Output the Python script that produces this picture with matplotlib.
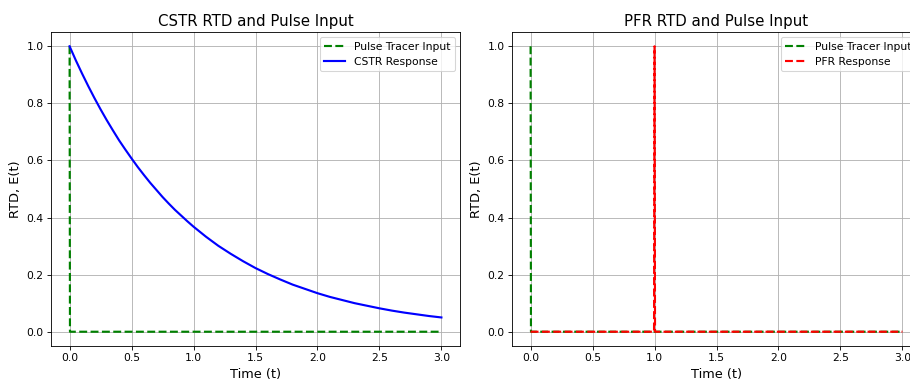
import numpy as np
import matplotlib
matplotlib.use("Agg")
import matplotlib.pyplot as plt

# pulse tracer input (spike at t=0)
pulse_t = [0.0, 0.003, 3.0]
pulse_e = [1.0, 0.0, 0.0]

# CSTR response, E(t)
cstr_t = [0.0, 0.05, 0.1, 0.15, 0.2, 0.25, 0.3, 0.35, 0.4, 0.45, 0.5,
          0.55, 0.6, 0.65, 0.7, 0.75, 0.8, 0.85, 0.9, 0.95, 1.0,
          1.1, 1.2, 1.3, 1.4, 1.5, 1.6, 1.7, 1.8, 1.9, 2.0,
          2.1, 2.2, 2.3, 2.4, 2.5, 2.6, 2.7, 2.8, 2.9, 3.0]
cstr_e = [1.0, 0.951, 0.905, 0.861, 0.819, 0.779, 0.741, 0.705, 0.670, 0.638, 0.607,
          0.577, 0.549, 0.522, 0.497, 0.472, 0.449, 0.427, 0.407, 0.387, 0.368,
          0.333, 0.301, 0.273, 0.247, 0.223, 0.202, 0.183, 0.165, 0.150, 0.135,
          0.122, 0.111, 0.100, 0.091, 0.082, 0.074, 0.067, 0.061, 0.055, 0.050]

# PFR response (spike at t=tau=1)
pfr_t = [0.0, 0.996, 1.0, 1.004, 3.0]
pfr_e = [0.0, 0.0, 1.0, 0.0, 0.0]

dpi = 77
W, H = 910, 381
fig = plt.figure(figsize=(W / dpi, H / dpi), dpi=dpi)
# axes boxes in pixels: left, bottom, width, height
ax1 = fig.add_axes([51 / W, 35 / H, 409 / W, 314 / H])
ax2 = fig.add_axes([512 / W, 35 / H, 409 / W, 314 / H])

ax1.plot(pulse_t, pulse_e, 'g--', lw=2, label='Pulse Tracer Input')
ax1.plot(cstr_t, cstr_e, 'b-', lw=2, label='CSTR Response')
ax1.set_title('CSTR RTD and Pulse Input', fontsize=14)
ax1.set_xlabel('Time (t)', fontsize=12)
ax1.set_ylabel('RTD, E(t)', fontsize=12)
ax1.legend()
ax1.grid(True)

ax2.plot(pulse_t, pulse_e, 'g--', lw=2, label='Pulse Tracer Input')
ax2.plot(pfr_t, pfr_e, 'r--', lw=2, label='PFR Response')
ax2.set_title('PFR RTD and Pulse Input', fontsize=14)
ax2.set_xlabel('Time (t)', fontsize=12)
ax2.set_ylabel('RTD, E(t)', fontsize=12)
ax2.legend()
ax2.grid(True)

plt.savefig('out.png', dpi=dpi)
